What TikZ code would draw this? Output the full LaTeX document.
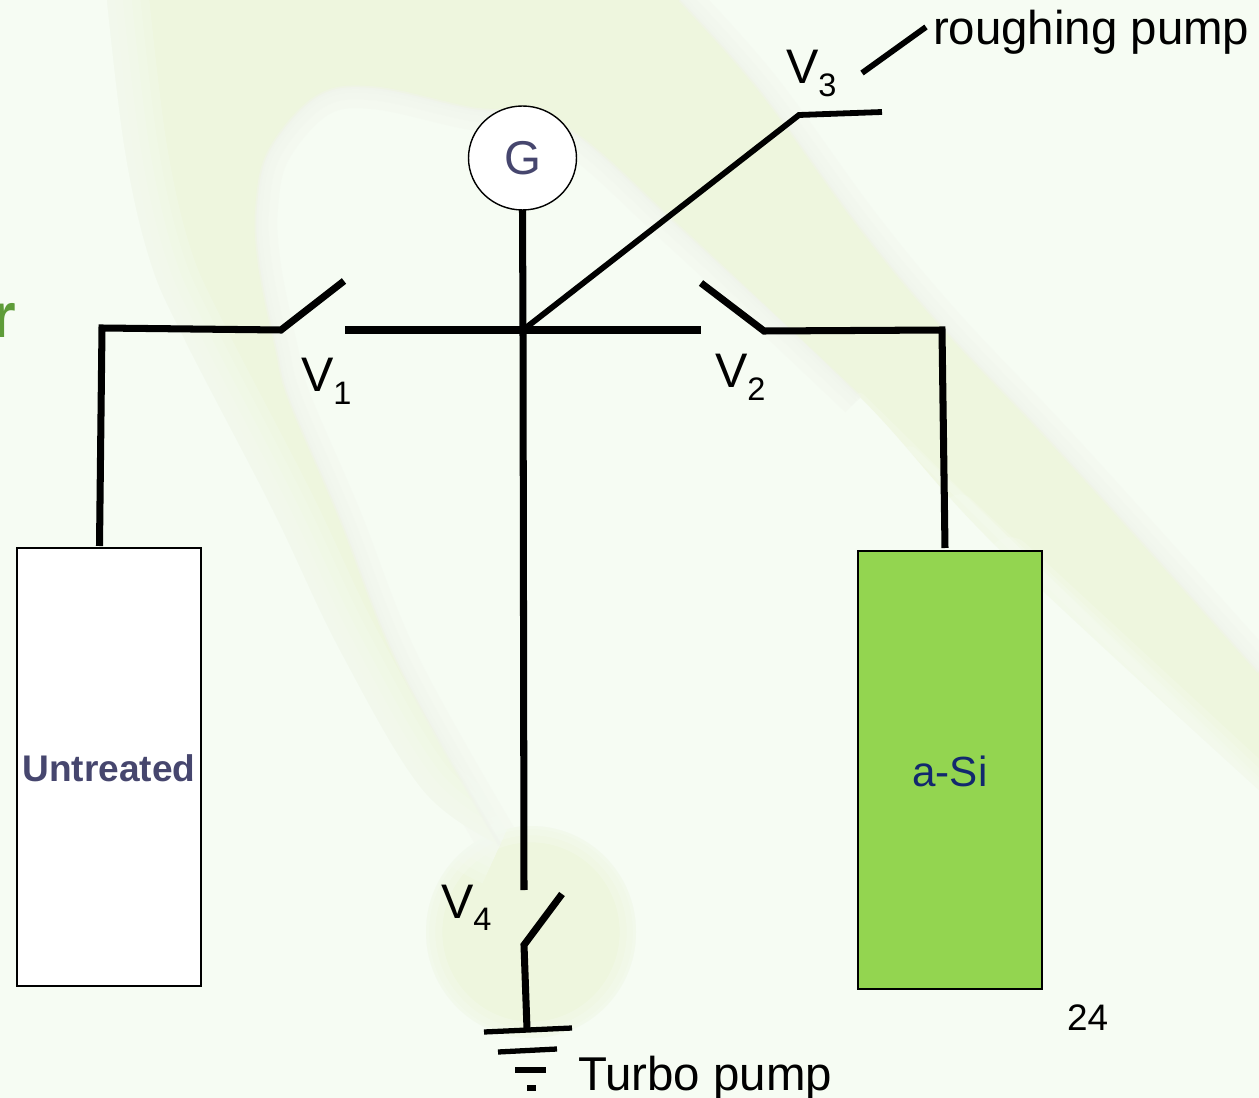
\documentclass[tikz,border=0pt]{standalone}
\usepackage{fontspec}
\setmainfont{Liberation Sans}
\usetikzlibrary{shapes.geometric}
\definecolor{bgbase}{HTML}{F6FCF3}
\definecolor{swoosh}{HTML}{EEF6DE}
\definecolor{halo}{HTML}{F0F4EC}
\definecolor{slate}{HTML}{46466E}
\definecolor{navy}{HTML}{12286E}
\definecolor{leaf}{HTML}{93D550}
\definecolor{olive}{HTML}{5E9C38}
\newcommand{\vlab}[1]{V\raisebox{-0.26em}{\fontsize{18.5}{20}\selectfont #1}}
\def\crispedge{plot[smooth,tension=0.6] coordinates {(860,397) (683,231) (562,126) (467,108) (373,88) (317,97) (270,150) (257,207) (260,267) (277,350) (290,400) (340,517) (400,667) (500,845)}}
\def\outeredge{plot[smooth,tension=0.6] coordinates {(500,845) (423,790) (340,650) (273,510) (185,340) (150,260) (125,150) (107,0)}}
\def\upperedge{plot[smooth,tension=0.6] coordinates {(680,0) (760,90) (860,227) (943,327) (1047,437) (1147,547) (1259,672)}}
\tikzset{
  x=0.02cm,y=-0.02cm,
  pipe/.style={line width=4pt,line join=miter,black},
  thinpipe/.style={line width=3.3pt,black},
  gnd/.style={line width=3pt,black},
  txt/.style={inner sep=0pt,outer sep=0pt,anchor=base west,font=\fontsize{27}{30}\selectfont},
  vtxt/.style={txt,font=\fontsize{27.6}{30}\selectfont},
  softstroke/.style={bgbase,opacity=0.25,line cap=round},
  tank/.style={draw=black,line width=0.8pt,inner sep=0pt,outer sep=0pt,anchor=north west,minimum width=3.68cm}
}
\begin{document}
\begin{tikzpicture}
\useasboundingbox (0,0) rectangle (1259,1098);
\begin{scope}
\clip (0,0) rectangle (1259,1098);
\fill[bgbase] (0,0) rectangle (1259,1098);
% halo beside the crisp edges, under the swoosh
\foreach \w in {24,14,6}{
  \draw[halo,opacity=0.3,line width=\w pt] \crispedge;
  \draw[halo,opacity=0.3,line width=\w pt] \upperedge;
}
% blob at the foot
\fill[swoosh] (531,932) ellipse (105 and 106);
\foreach \w in {22,14,7}{
  \draw[bgbase,opacity=0.3,line width=\w pt] (531,932) ellipse (108 and 109);
}
% swoosh
\fill[swoosh] (107,0) -- (680,0)
  -- plot[smooth,tension=0.6] coordinates {(680,0) (760,90) (860,227) (943,327) (1047,437) (1147,547) (1259,672)}
  -- (1259,790)
  -- plot[smooth,tension=0.6] coordinates {(1259,790) (997,547) (860,397) (683,231) (562,126) (467,108) (373,88) (317,97) (270,150) (257,207) (260,267) (277,350) (290,400) (340,517) (400,667) (500,845)}
  -- plot[smooth,tension=0.6] coordinates {(500,845) (423,790) (340,650) (273,510) (185,340) (150,260) (125,150) (107,0)}
  -- cycle;
% soften its outer edge from inside
\foreach \w in {48,38,28,18,9}{
  \draw[bgbase,opacity=0.24,line width=\w pt] \outeredge;
}
\draw[softstroke,line width=26pt] (1270,800) -- (1010,560);
\draw[softstroke,line width=18pt] (1270,800) -- (960,510);
\draw[softstroke,line width=10pt] (1270,800) -- (910,455);
\draw[softstroke,line width=5pt] (1270,800) -- (860,397);
\draw[halo,opacity=0.5,line width=2pt] \crispedge;
\draw[halo,opacity=0.5,line width=2pt] \upperedge;
\node[txt,anchor=base east,text=olive,font=\fontsize{36}{40}\selectfont\bfseries] (rr) at (16,338) {r};
\end{scope}

% named points
\coordinate (leftcorner) at (102,328);
\coordinate (v1hinge) at (281,330);
\coordinate (v1tip) at (344,281);
\coordinate (v1stub) at (345,330);
\coordinate (v2stub) at (701,330);
\coordinate (v2tip) at (701,283);
\coordinate (v2hinge) at (764,331);
\coordinate (rightcorner) at (942,330);
\coordinate (junction) at (523,330);
\coordinate (v3hinge) at (799,115);
\coordinate (v3stub) at (882,112);
\coordinate (v3tipA) at (862,73);
\coordinate (v3tipB) at (926,27);
\coordinate (v4stub) at (524,890);
\coordinate (v4tip) at (562,894);
\coordinate (v4hinge) at (524,945);
\coordinate (gndtop) at (527,1029);
\coordinate (g1a) at (484,1032); \coordinate (g1b) at (572,1028);
\coordinate (g2a) at (498,1052); \coordinate (g2b) at (557,1049);
\coordinate (g3a) at (515,1070); \coordinate (g3b) at (546,1070);
\coordinate (g4a) at (527,1088); \coordinate (g4b) at (536,1088);
\coordinate (leftdrop) at (99.5,546);
\coordinate (rightdrop) at (945,548);

% nodes
\node[tank,fill=white,minimum height=8.76cm] (untreated) at (17,548) {};
\node[inner sep=0pt,text=slate,font=\fontsize{21.1}{24}\selectfont\bfseries] (untreatedlabel) at (109,768) {Untreated};
\node[tank,fill=leaf,minimum height=8.76cm] (asi) at (858,551) {};
\node[inner sep=0pt,text=navy,font=\fontsize{24}{28}\selectfont] (asilabel) at (950,771) {a-Si};
\node[ellipse,draw=black,line width=0.8pt,fill=white,minimum width=2.16cm,minimum height=2.08cm,inner sep=0pt,outer sep=0pt,text=slate,font=\fontsize{27}{30}\selectfont] (gauge) at (522.5,158) {G};

% connectors
\draw[pipe] (leftdrop) -- (leftcorner) -- (v1hinge) -- (v1tip);
\draw[pipe] (v1stub) -- (v2stub);
\draw[pipe] (v2tip) -- (v2hinge) -- (rightcorner) -- (rightdrop);
\draw[pipe] (gauge.south) -- (junction) -- (v4stub);
\draw[thinpipe] (junction) -- (v3hinge) -- (v3stub);
\draw[thinpipe] (v3tipA) -- (v3tipB);
\draw[pipe] (v4tip) -- (v4hinge) -- (gndtop);
\draw[gnd] (g1a) -- (g1b);
\draw[gnd] (g2a) -- (g2b);
\draw[gnd] (g3a) -- (g3b);
\draw[line width=3.4pt,black] (g4a) -- (g4b);

% labels
\node[txt] (rough) at (933,45) {roughing pump};
\node[txt] (turbo) at (578,1090) {Turbo pump};
\node[vtxt] (v1l) at (301,392) {\vlab{1}};
\node[vtxt] (v2l) at (715,388) {\vlab{2}};
\node[vtxt] (v3l) at (786,84) {\vlab{3}};
\node[vtxt] (v4l) at (441,918) {\vlab{4}};
\node[txt,font=\fontsize{21}{24}\selectfont] (page) at (1067,1030) {24};
\end{tikzpicture}
\end{document}
